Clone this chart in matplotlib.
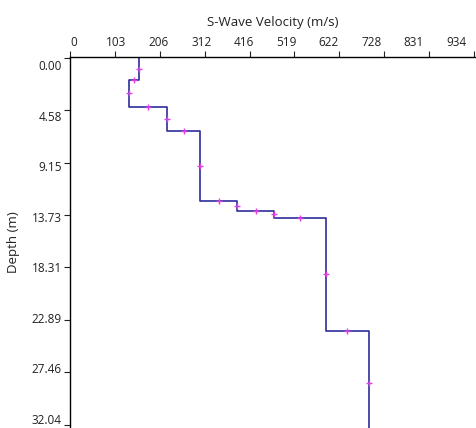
import matplotlib
matplotlib.use('Agg')
from matplotlib import pyplot as plt
from matplotlib import transforms
import numpy as np

# layer model
velocities = [160, 136, 225, 301, 386, 472, 591, 692]
layer_tops = [0.0, 1.92, 4.26, 6.38, 12.50, 13.40, 13.96, 23.83]
model_bottom = 33.0

x_ticks = [0, 103.8, 207.6, 311.3, 415.1, 518.9, 622.7, 726.4, 830.2, 934.0]
x_labels = ['0', '103', '206', '312', '416', '519', '622', '728', '831', '934']
y_ticks = [0.0, 4.58, 9.15, 13.73, 18.31, 22.89, 27.46, 32.04]
y_labels = ['0.00', '4.58', '9.15', '13.73', '18.31', '22.89', '27.46', '32.04']

plt.rcParams['font.family'] = ['Open Sans', 'DejaVu Sans']

# build step profile
xs, ys = [], []
bottoms = layer_tops[1:] + [model_bottom]
for v, top, bot in zip(velocities, layer_tops, bottoms):
    xs += [v, v]
    ys += [top, bot]
xs = np.array(xs)
ys = np.array(ys)
mid_x = (xs[:-1] + xs[1:]) / 2
mid_y = (ys[:-1] + ys[1:]) / 2
keep = mid_y < 32.3

fig = plt.figure(figsize=(4.76, 4.28), dpi=100)
ax = fig.add_axes([70 / 476, 0.0, 406 / 476, 1 - 57 / 428])

ax.plot(xs, ys, color='#2e2e9c', linewidth=1.2, zorder=2)
ax.plot(mid_x[keep], mid_y[keep], linestyle='none', marker='+', markersize=5,
        markeredgewidth=1.0, color='#e040e0', zorder=3)

ax.set_xlim(0, 938.7)
ax.set_ylim(32.34, -0.08)

ax.xaxis.set_label_position('top')
ax.xaxis.tick_top()
ax.set_xticks(x_ticks)
ax.set_xticklabels(x_labels)
ax.set_yticks(y_ticks)
ax.set_yticklabels(y_labels)
ax.tick_params(axis='both', which='major', labelsize=8.5, length=4, width=0.8,
               color='#222222', labelcolor='#222222', direction='out', pad=2)

# the labels in the original drift a little from their ticks
for k, lab in enumerate(ax.get_yticklabels()):
    dy = -(7.4 - 1.9 * k) / 100
    lab.set_transform(lab.get_transform() + transforms.ScaledTranslation(0, dy, fig.dpi_scale_trans))
for k, lab in enumerate(ax.get_xticklabels()):
    dx = (4 - 2.4 * k) / 100
    lab.set_transform(lab.get_transform() + transforms.ScaledTranslation(dx, 0, fig.dpi_scale_trans))

ax.set_xlabel('S-Wave Velocity (m/s)', fontsize=9.5, color='#222222', labelpad=7)
ax.set_ylabel('Depth (m)', fontsize=9.5, color='#222222', labelpad=8)

ax.spines['right'].set_visible(False)
ax.spines['bottom'].set_visible(False)
ax.spines['top'].set_linewidth(1.0)
ax.spines['left'].set_linewidth(1.0)

fig.savefig('out.png', dpi=100)
